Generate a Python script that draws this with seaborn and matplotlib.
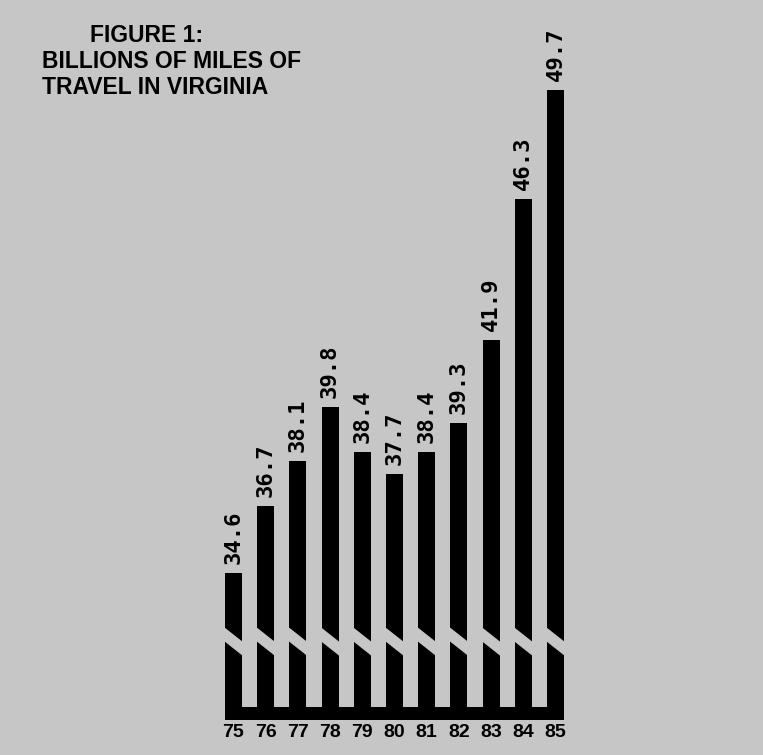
import matplotlib
matplotlib.use("Agg")
import matplotlib.pyplot as plt
from matplotlib.patches import Polygon, Rectangle
import pandas as pd
import seaborn as sns

years = ["75", "76", "77", "78", "79", "80", "81", "82", "83", "84", "85"]
miles = [34.6, 36.7, 38.1, 39.8, 38.4, 37.7, 38.4, 39.3, 41.9, 46.3, 49.7]
title_lines = ["FIGURE 1:", "BILLIONS OF MILES OF", "TRAVEL IN VIRGINIA"]

bg = "#c6c6c6"
sns.set_theme(style="white")
plt.rcParams["font.family"] = ["Liberation Sans", "DejaVu Sans"]

W, H = 763, 755
fig = plt.figure(figsize=(W / 100, H / 100), dpi=100, facecolor=bg)
ax = fig.add_axes([0, 35 / H, 1, 720 / H])
ax.set_facecolor(bg)

df = pd.DataFrame({"year": years, "miles": miles})
sns.barplot(data=df, x="year", y="miles", color="black", saturation=1,
            width=0.53, linewidth=0, edgecolor="black", ax=ax)

# broken axis: bars start well above zero
ymin = 30.0
px = 31.96  # pixels per billion miles
ax.set_ylim(ymin, ymin + 720 / px)
ax.set_xlim(-7.25, -7.25 + W / 32.2)

bars = ax.patches
bw = bars[0].get_width()

# black base strip joining the bars
left = bars[0].get_x()
right = bars[-1].get_x() + bw
ax.add_patch(Rectangle((left, ymin), right - left, 13 / px, color="black", lw=0, zorder=3))

# diagonal break cut through every bar, value labels above
for p, v in zip(bars, miles):
    x0 = p.get_x() - 0.03
    x1 = p.get_x() + bw + 0.03
    cut = Polygon([(x0, ymin + 93 / px), (x1, ymin + 78 / px),
                   (x1, ymin + 64 / px), (x0, ymin + 79 / px)],
                  closed=True, color=bg, lw=0, zorder=4)
    ax.add_patch(cut)
    ax.text(p.get_x() + bw / 2, p.get_height() + 9 / px, f"{v}",
            rotation=90, ha="center", va="bottom", fontsize=16,
            family="DejaVu Sans Mono", fontweight="bold", color="black")

ax.tick_params(axis="x", length=0, pad=3, labelsize=14, labelcolor="black")
for lab in ax.get_xticklabels():
    lab.set_fontweight("bold")
ax.set_yticks([])
ax.set_xlabel("")
ax.set_ylabel("")
sns.despine(ax=ax, left=True, bottom=True)

fig.text(90 / W, 1 - 36 / H, title_lines[0], fontsize=16.5, fontweight="bold",
         va="center", color="black")
fig.text(42 / W, 1 - 62 / H, title_lines[1], fontsize=16.5, fontweight="bold",
         va="center", color="black")
fig.text(42 / W, 1 - 87 / H, title_lines[2], fontsize=16.5, fontweight="bold",
         va="center", color="black")

fig.savefig("out.png", dpi=100, facecolor=bg)
